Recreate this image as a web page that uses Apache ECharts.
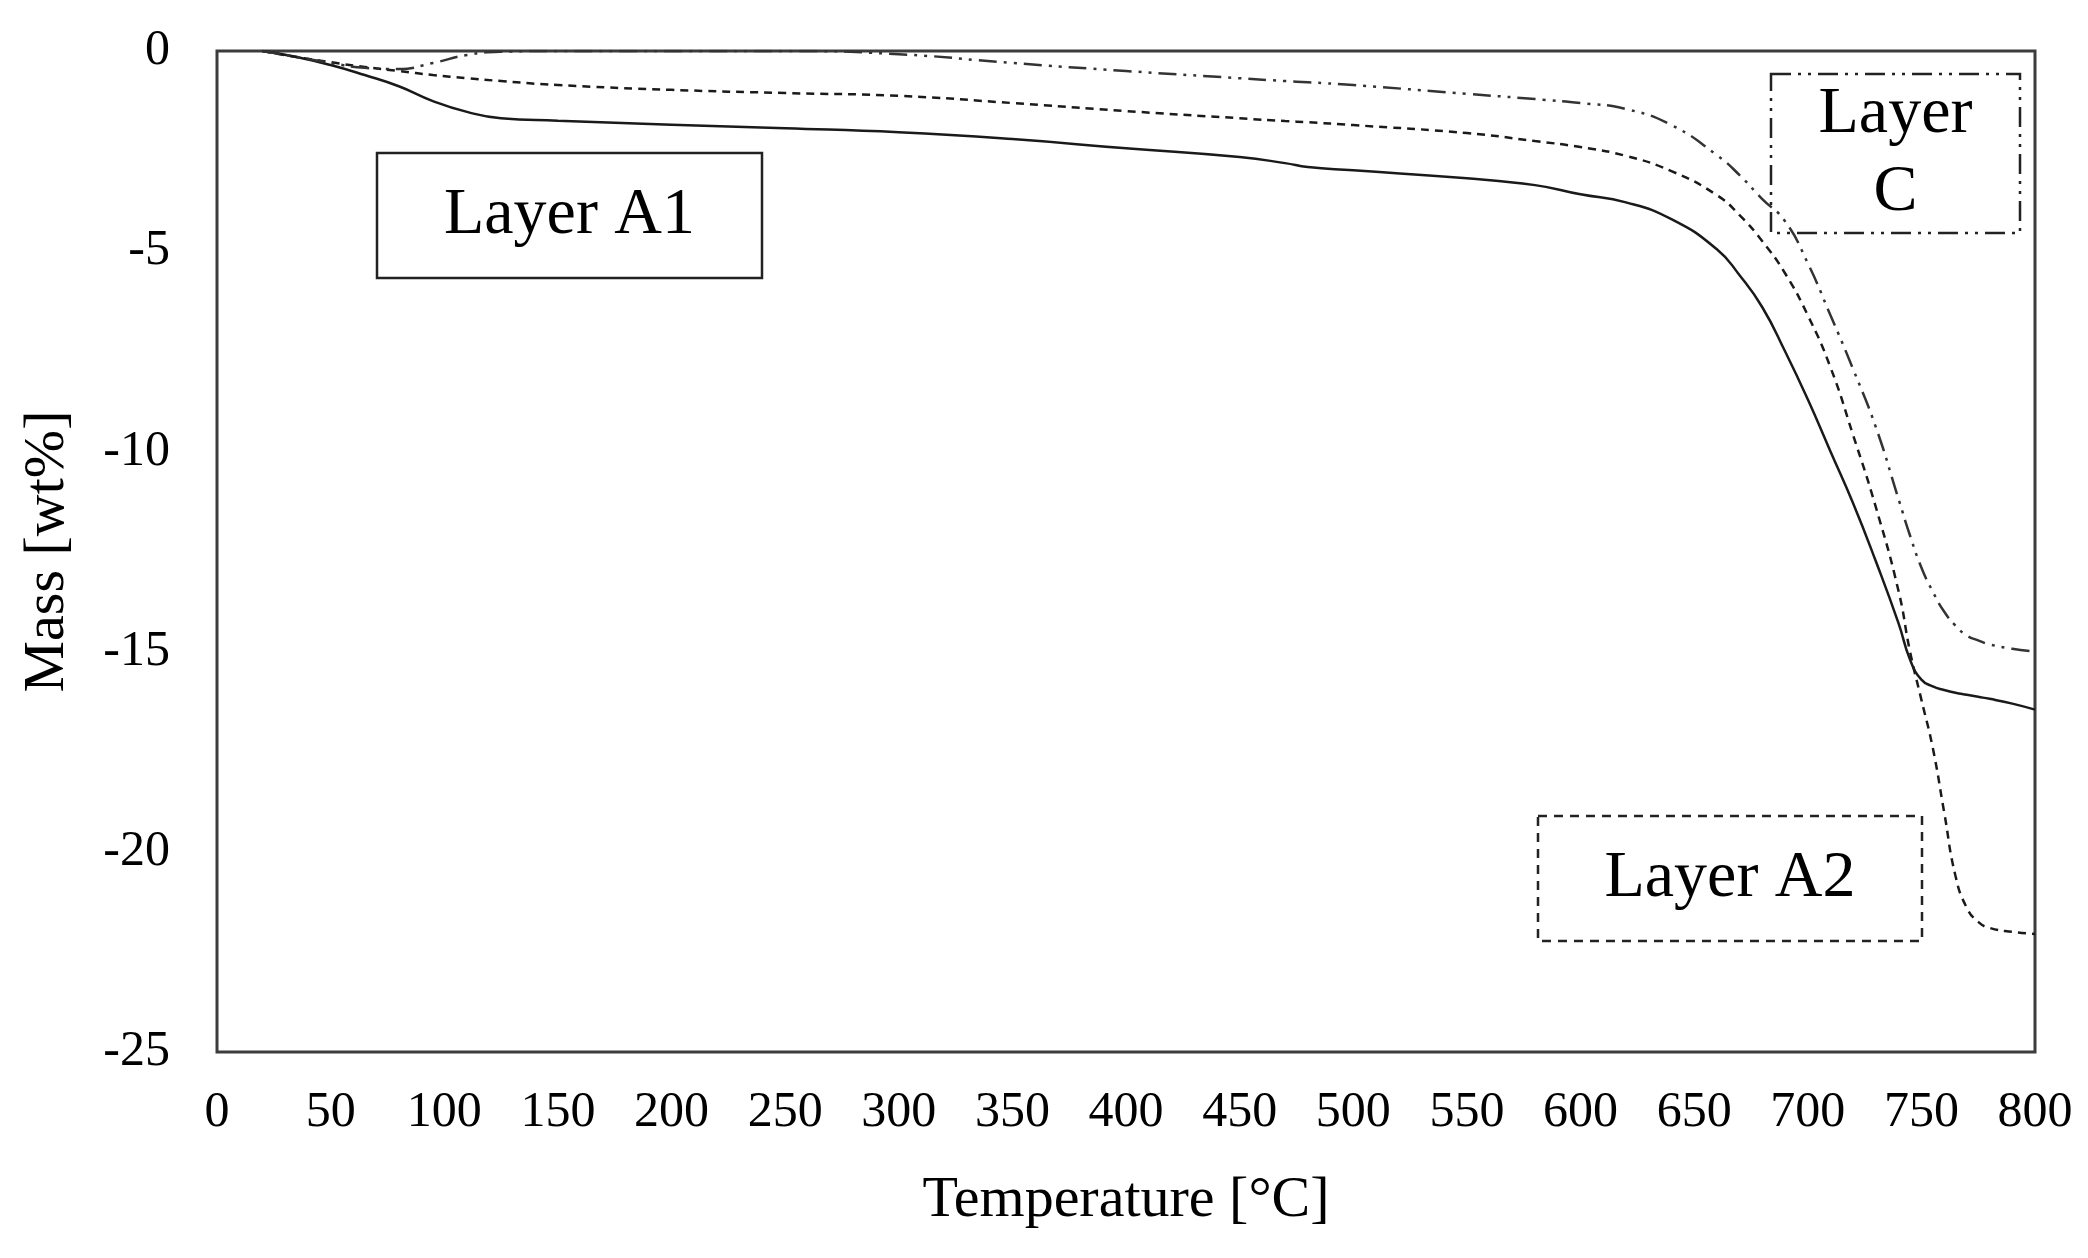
<!DOCTYPE html>
<html>
<head>
<meta charset="utf-8">
<title>TGA layers</title>
<script src="https://cdn.jsdelivr.net/npm/echarts@6/dist/echarts.min.js"></script>
<style>
    html, body { margin: 0; padding: 0; background: #ffffff; }
    #main { width: 2088px; height: 1258px; }
</style>
</head>
<body>
<div id="main"></div>
<script>
    // temperature [°C] sampled points, shared by the three curves
    var temperature = [20, 35, 50, 65, 80, 95, 110, 125, 150, 200, 250, 300, 350, 400, 450, 470, 480, 500, 550, 580,
        600, 620, 640, 660, 670, 680, 690, 700, 710, 720, 730, 740, 745, 750, 755, 760, 765, 770, 775, 780, 790, 800];
    // mass [wt%]
    var layerA1 = [0, -0.15, -0.35, -0.6, -0.88, -1.25, -1.52, -1.68, -1.74, -1.84, -1.93, -2.03, -2.2, -2.43, -2.65, -2.8, -2.9, -2.98, -3.18, -3.35,
        -3.58, -3.78, -4.2, -4.95, -5.6, -6.4, -7.5, -8.7, -10.0, -11.3, -12.75, -14.3, -15.2, -15.7, -15.87, -15.96, -16.03, -16.08, -16.13, -16.18, -16.3, -16.45];
    var layerA2 = [0, -0.15, -0.28, -0.4, -0.5, -0.6, -0.68, -0.75, -0.85, -0.97, -1.05, -1.12, -1.3, -1.5, -1.68, -1.75, -1.78, -1.85, -2.05, -2.25,
        -2.4, -2.62, -3.0, -3.6, -4.1, -4.75, -5.55, -6.6, -7.9, -9.6, -11.4, -13.5, -15.0, -16.2, -17.4, -19.0, -20.6, -21.4, -21.75, -21.9, -22.0, -22.05];
    var layerC = [0, -0.15, -0.3, -0.42, -0.45, -0.3, -0.1, -0.02, 0, 0, 0, -0.08, -0.3, -0.5, -0.68, -0.75, -0.78, -0.85, -1.07, -1.2,
        -1.3, -1.45, -1.85, -2.6, -3.1, -3.7, -4.25, -5.3, -6.6, -7.95, -9.4, -11.2, -12.1, -12.9, -13.5, -14.0, -14.35, -14.6, -14.72, -14.82, -14.93, -15.0];
    var xTicks = {min: 0, max: 800, interval: 50};
    var yTicks = {min: -25, max: 0, interval: 5};

    var font = '"Liberation Serif", "Times New Roman", serif';

    function pairs(ys) {
        return temperature.map(function (t, i) { return [t, ys[i]]; });
    }

    function labelBox(x, y, w, h, text, dash, lineHeight) {
        return {
            type: 'group',
            x: x,
            y: y,
            children: [
                {
                    type: 'rect',
                    shape: {x: 0, y: 0, width: w, height: h},
                    style: {fill: '#ffffff', stroke: '#222222', lineWidth: 2.5, lineDash: dash}
                },
                {
                    type: 'text',
                    x: w / 2,
                    y: h / 2,
                    style: {
                        text: text,
                        font: '66px ' + font,
                        fill: '#000000',
                        align: 'center',
                        verticalAlign: 'middle',
                        lineHeight: lineHeight || 78
                    }
                }
            ]
        };
    }

    var chart = echarts.init(document.getElementById('main'));
    var options = {
        animation: false,
        backgroundColor: '#ffffff',
        grid: {
            left: 217,
            right: 53,
            top: 51,
            bottom: 206,
            show: true,
            borderColor: '#3c3c3c',
            borderWidth: 3,
            backgroundColor: 'transparent'
        },
        xAxis: {
            type: 'value',
            min: xTicks.min,
            max: xTicks.max,
            interval: xTicks.interval,
            name: 'Temperature [°C]',
            nameLocation: 'middle',
            nameGap: 120,
            nameTextStyle: {fontFamily: font, fontSize: 58, color: '#000000'},
            axisLine: {show: false},
            axisTick: {show: false},
            splitLine: {show: false},
            axisLabel: {fontFamily: font, fontSize: 50, color: '#000000', margin: 36}
        },
        yAxis: {
            type: 'value',
            min: yTicks.min,
            max: yTicks.max,
            interval: yTicks.interval,
            name: 'Mass [wt%]',
            nameLocation: 'middle',
            nameGap: 140,
            nameTextStyle: {fontFamily: font, fontSize: 58, color: '#000000'},
            axisLine: {show: false},
            axisTick: {show: false},
            splitLine: {show: false},
            axisLabel: {fontFamily: font, fontSize: 50, color: '#000000', margin: 47}
        },
        series: [
            {
                name: 'Layer A1',
                type: 'line',
                data: pairs(layerA1),
                showSymbol: false,
                smooth: 0.5,
                lineStyle: {color: '#1a1a1a', width: 2.5, type: 'solid'}
            },
            {
                name: 'Layer A2',
                type: 'line',
                data: pairs(layerA2),
                showSymbol: false,
                smooth: 0.5,
                lineStyle: {color: '#1a1a1a', width: 2.5, type: [8, 6]}
            },
            {
                name: 'Layer C',
                type: 'line',
                data: pairs(layerC),
                showSymbol: false,
                smooth: 0.5,
                lineStyle: {color: '#333333', width: 2.5, type: [18, 7, 3, 7, 3, 7]}
            }
        ],
        graphic: [
            labelBox(377, 153, 385, 125, 'Layer A1', null),
            labelBox(1538, 816, 384, 125, 'Layer A2', [9, 7]),
            labelBox(1771, 74, 249, 159, 'Layer\nC', [20, 7, 3, 7, 3, 7])
        ]
    };
    chart.setOption(options);
</script>
</body>
</html>
